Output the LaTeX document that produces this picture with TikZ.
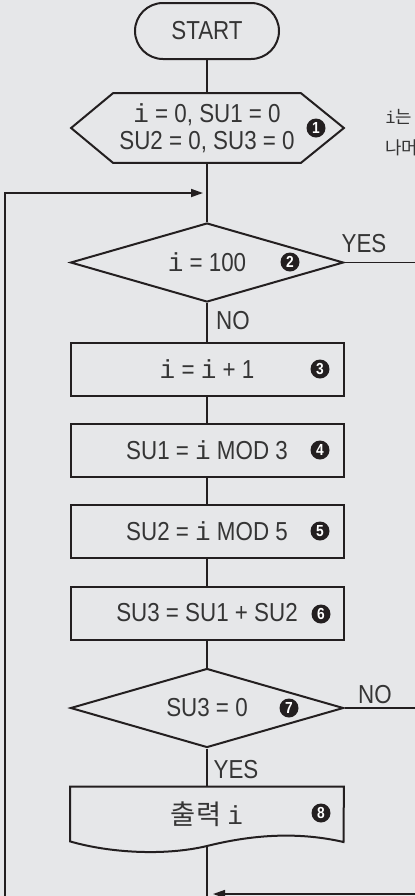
\documentclass[tikz,border=0pt]{standalone}
\usepackage{fontspec}
\setmainfont{Liberation Sans}[FakeStretch=0.86]
\newfontfamily\monofont{Liberation Mono}
\newfontfamily\kofont{Noto Sans CJK KR}[Scale=1.05]
\usetikzlibrary{shapes.geometric,arrows.meta}

\definecolor{bgcol}{HTML}{E6E7E9}
\definecolor{inkcol}{HTML}{231F20}
\definecolor{txtcol}{HTML}{353535}

\newcommand{\vi}{{\monofont i}}

\begin{document}
\begin{tikzpicture}[x=0.5pt, y=-0.5pt,
    conn/.style={draw=inkcol, line width=0.75pt},
    arr/.style={conn, -{Triangle[length=6pt,width=4pt]}, shorten >=2pt},
    txt/.style={text=txtcol, font=\fontsize{13}{13.5}\selectfont, inner sep=0pt},
    procbox/.style={txt, draw=inkcol, line width=1pt, minimum width=136.5pt, minimum height=26.5pt},
    decision/.style={txt, diamond, shape aspect=3.5, draw=inkcol, line width=1pt, minimum width=136.5pt, minimum height=39.5pt},
    badge/.style={circle, fill=inkcol, text=white, inner sep=0pt, minimum size=9.5pt, font=\fontsize{8}{8}\selectfont\bfseries},
    note/.style={text=txtcol, font=\fontsize{8.5}{8.5}\selectfont, inner sep=0pt, anchor=west}
]
    \fill[bgcol] (0,0) rectangle (415,896);
    \useasboundingbox (0,0) rectangle (415,896);

    % --- START AND INITIALISATION ---
    \node[txt, draw=inkcol, line width=1pt, rounded corners=14pt, minimum width=72pt, minimum height=28pt] (start) at (207,31) {START};

    \node[txt, align=center, minimum width=93.5pt, minimum height=34.5pt] (init) at (207,128) {\vi{} = 0, SU1 = 0\\SU2 = 0, SU3 = 0};
    \draw[inkcol, line width=1pt] (init.north west) -- (init.north east) -- ([xshift=21.5pt]init.east)
        -- (init.south east) -- (init.south west) -- ([xshift=-21pt]init.west) -- cycle;
    \node[badge] (b1) at (316,128) {1};

    \node[note] (note1) at (385,117) {\vi{\kofont 는}};
    \node[note] (note2) at (385,148) {\kofont 나머};

    % --- LOOP TEST ---
    \node[decision] (cond1) at (207,262.5) {\vi{} = 100};
    \node[badge] (b2) at (290,262) {2};
    \node[txt] (yes1) at (364,243.5) {YES};
    \node[txt] (no1) at (233,321) {NO};

    % --- BODY ---
    \node[procbox] (inc) at (207,369.5) {\vi{} = \vi{} + 1};
    \node[badge] (b3) at (320,369) {3};

    \node[procbox] (su1) at (207,450.5) {SU1 = \vi{} MOD 3};
    \node[badge] (b4) at (320,450) {4};

    \node[procbox] (su2) at (207,531) {SU2 = \vi{} MOD 5};
    \node[badge] (b5) at (320,531) {5};

    \node[procbox] (su3) at (207,613) {SU3 = SU1 + SU2};
    \node[badge] (b6) at (321,614) {6};

    \node[decision] (cond2) at (207,708) {SU3 = 0};
    \node[badge] (b7) at (289,708) {7};
    \node[txt] (no2) at (375,695) {NO};
    \node[txt] (yes2) at (236,769.5) {YES};

    % --- OUTPUT ---
    \node[txt, minimum width=136.5pt, minimum height=27pt] (out) at (207,814) {{\kofont 출력} \vi};
    \draw[inkcol, line width=1pt] (out.south west) -- (out.north west) -- (out.north east) -- (343.5,842)
        .. controls (300,832) and (255,834) .. (207,846)
        .. controls (165,856) and (110,853) .. (out.south west) -- cycle;
    \node[badge] (b8) at (321,813) {8};

    % --- CONNECTORS ---
    \coordinate (loopin) at (207,193);
    \coordinate (loopbot) at (5,910);
    \coordinate (yesend) at (430,262.5);
    \coordinate (noend) at (430,708);
    \coordinate (outwave) at (207,846);
    \coordinate (outend) at (207,910);
    \coordinate (retstart) at (430,894);
    \coordinate (retend) at (209,894);

    \draw[conn] (start) -- (init);
    \draw[conn] (init) -- (cond1);
    \draw[conn] (cond1) -- (inc);
    \draw[conn] (inc) -- (su1);
    \draw[conn] (su1) -- (su2);
    \draw[conn] (su2) -- (su3);
    \draw[conn] (su3) -- (cond2);
    \draw[conn] (cond2) -- (out);
    \draw[conn] (outwave) -- (outend);
    \draw[conn] (cond1.east) -- (yesend);
    \draw[conn] (cond2.east) -- (noend);
    \draw[arr, line width=0.9pt] (loopbot) |- (loopin);
    \draw[arr] (retstart) -- (retend);
\end{tikzpicture}
\end{document}
